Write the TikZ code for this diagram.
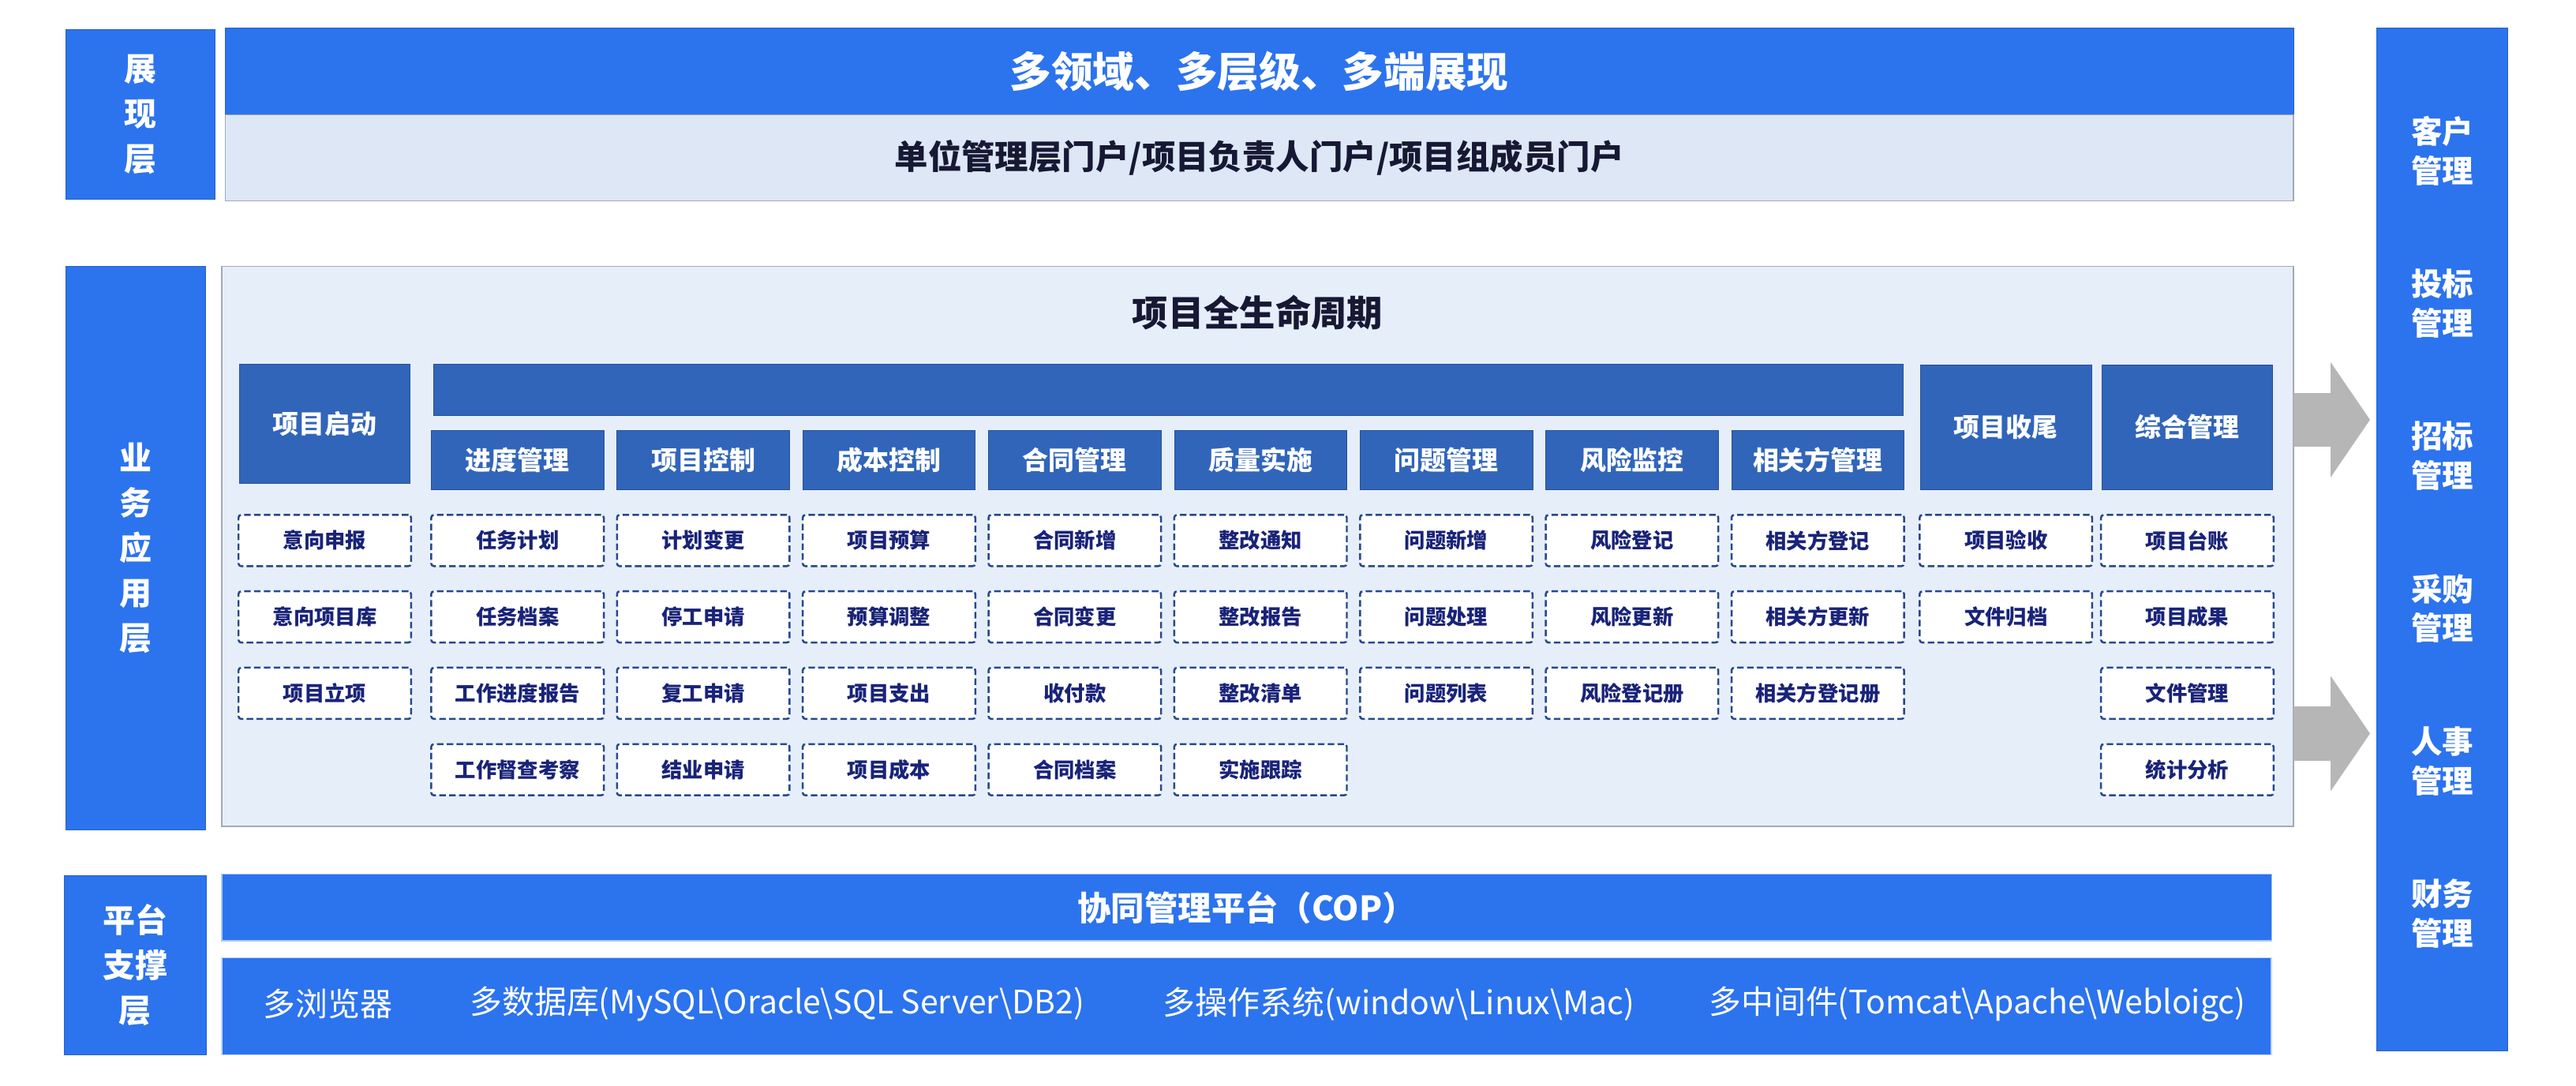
\documentclass[tikz,border=0pt]{standalone}
\usepackage{fontspec}
\setmainfont{Noto Sans CJK SC}
\usepackage{xcolor}
\usepackage{tikz}
\usetikzlibrary{arrows.meta,positioning}

\definecolor{vivid}{RGB}{44,115,238}
\definecolor{deep}{RGB}{49,101,186}
\definecolor{pale}{RGB}{230,238,249}
\definecolor{mist}{RGB}{221,231,245}
\definecolor{rim}{RGB}{160,170,186}
\definecolor{navy}{RGB}{25,35,120}
\definecolor{ink}{RGB}{22,24,52}
\definecolor{dashblue}{RGB}{38,72,140}
\definecolor{arrowgray}{RGB}{182,182,182}

\begin{document}
\begin{tikzpicture}[x=0.5mm, y=-0.5mm, thick]
	\tikzstyle{every node}=[inner sep=0pt, outer sep=0pt, align=center]
	\tikzstyle{layer}=[fill=vivid, draw=vivid!85!black, line width=0.5pt, text=white, font=\bfseries\fontsize{28}{39}\selectfont]
	\tikzstyle{banner}=[fill=vivid, draw=vivid!85!black, line width=0.5pt, text=white, minimum width=629.5mm, minimum height=26.3mm, font=\bfseries\fontsize{36}{40}\selectfont]
	\tikzstyle{portal}=[fill=mist, draw=rim, line width=0.8pt, text=ink, minimum width=629.5mm, minimum height=26.2mm, font=\bfseries\fontsize{29}{33}\selectfont]
	\tikzstyle{head}=[fill=deep, draw=deep!80!black, line width=0.5pt, text=white, minimum width=52.5mm, minimum height=18mm, font=\bfseries\fontsize{22.5}{26}\selectfont]
	\tikzstyle{item}=[fill=white, draw=dashblue, line width=1.7pt, dash pattern=on 2mm off 1mm, rounded corners=0.8mm, text=navy, minimum width=52.5mm, minimum height=15.6mm, font=\bfseries\fontsize{18}{20}\selectfont]
	\tikzstyle{sidetext}=[text=white, font=\bfseries\fontsize{27}{34}\selectfont]
	\tikzstyle{basetext}=[text=white, font=\fontsize{28}{30}\selectfont]
	\tikzstyle{bigarrow}=[draw=arrowgray, line width=16.5mm, -{Triangle[length=12mm, width=34.5mm]}, shorten >=2mm]

	\fill[white] (0,0) rectangle (1568,661);
	\useasboundingbox (0,0) rectangle (1568,661);

	% presentation layer
	\node[layer, minimum width=45.5mm, minimum height=51.5mm] (L1) at (85.5,69.5) {展\\现\\层};
	\node[banner] (T) at (766.5,43.4) {多领域、多层级、多端展现};
	\node[portal, below=0pt of T] (P) {单位管理层门户/项目负责人门户/项目组成员门户};

	% application layer
	\node[layer, minimum width=42.5mm, minimum height=171.5mm] (L2) at (82.5,333.5) {业\\务\\应\\用\\层};
	\node[fill=pale, draw=rim, line width=0.8pt, minimum width=630.5mm, minimum height=170.5mm] (Life) at (765.5,332.5) {};
	\node[text=ink, font=\bfseries\fontsize{31}{34}\selectfont] (LT) at ([yshift=-14mm]Life.north) {项目全生命周期};

	\node[head, minimum width=52mm, minimum height=36.3mm] (start) at (197.7,258) {项目启动};
	\node[head, minimum width=447.3mm, minimum height=15.5mm] (B) at (711,237.2) {};
	\foreach \n/\t [count=\i] in {prog/进度管理, ctrl/项目控制, cost/成本控制, deal/合同管理, qual/质量实施, issue/问题管理, risk/风险监控, party/相关方管理}
		\node[head] (\n) at ({315+113.07*(\i-1)},280) {\t};
	\node[head, minimum width=52.2mm, minimum height=38mm] (close) at (1221,260) {项目收尾};
	\node[head, minimum width=52mm, minimum height=38mm] (misc) at (1331.4,260) {综合管理};

	\foreach \n/\items in {start/{意向申报,意向项目库,项目立项}, prog/{任务计划,任务档案,工作进度报告,工作督查考察}, ctrl/{计划变更,停工申请,复工申请,结业申请}, cost/{项目预算,预算调整,项目支出,项目成本}, deal/{合同新增,合同变更,收付款,合同档案}, qual/{整改通知,整改报告,整改清单,实施跟踪}, issue/{问题新增,问题处理,问题列表}, risk/{风险登记,风险更新,风险登记册}, party/{相关方登记,相关方更新,相关方登记册}, close/{项目验收,文件归档}, misc/{项目台账,项目成果,文件管理,统计分析}}
		\foreach \t [count=\r] in \items
			\node[item] (\n-\r) at (\n.center |- 0,{329+46.5*(\r-1)}) {\t};

	% side column and arrows
	\node[layer, minimum width=40mm, minimum height=311.2mm] (R) at (1486.6,328.3) {};
	\foreach \t [count=\i] in {客户,投标,招标,采购,人事,财务}
		\node[sidetext] (s\i) at (1486.6,{92+92.8*(\i-1)}) {\t\\管理};
	\draw[bigarrow] (Life.east |- 0,255.5) -- (R.west |- 0,255.5);
	\draw[bigarrow] (Life.east |- 0,446.5) -- (R.west |- 0,446.5);

	% platform layer
	\node[layer, minimum width=43.3mm, minimum height=54.5mm] (L3) at (82.3,587.5) {平台\\支撑\\层};
	\node[fill=vivid, draw=vivid!40, line width=0.8pt, minimum width=623.8mm, minimum height=20.3mm, text=white, font=\bfseries\fontsize{29}{32}\selectfont] (C) at (758.8,552.3) {协同管理平台（COP）};
	\node[fill=vivid, draw=vivid!30, line width=1pt, minimum width=623.8mm, minimum height=29.5mm] (D) at (758.8,612.5) {};
	\node[basetext] (d1) at (199.5,611) {多浏览器};
	\node[basetext] (d2) at (473,611) {多数据库(MySQL\textbackslash Oracle\textbackslash SQL Server\textbackslash DB2)};
	\node[basetext] (d3) at (851.5,611) {多操作系统(window\textbackslash Linux\textbackslash Mac)};
	\node[basetext] (d4) at (1203.5,611) {多中间件(Tomcat\textbackslash Apache\textbackslash Webloigc)};
\end{tikzpicture}
\end{document}
